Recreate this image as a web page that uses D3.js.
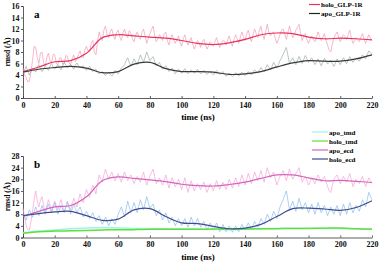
<!DOCTYPE html>
<html>
<head>
<meta charset="utf-8">
<script src="https://cdn.jsdelivr.net/npm/d3@7"></script>
<style>
  body { margin: 0; background: #fff; }
  text { font-family: "Liberation Serif", "Times New Roman", serif; font-weight: bold; }
</style>
</head>
<body>
<div id="chart"></div>
<script>
// time steps
var tRaw = d3.range(0, 221, 1);
var tSmooth = d3.range(0, 221, 10);
var xTicks = [0, 20, 40, 60, 80, 100, 120, 140, 160, 180, 200, 220];

// panel a (raw every 1 ns, smooth every 10 ns)
var holoRaw = [
  5.2,4.0,3.5,2.8,2.9,4.5,6.5,9.0,8.8,7.0,
  6.0,7.8,8.0,6.2,5.5,7.0,7.8,6.5,6.2,7.6,
  7.5,6.0,5.8,6.9,7.0,5.9,6.0,7.4,7.2,6.1,
  5.8,6.8,7.5,6.3,6.8,7.6,8.2,7.1,7.0,8.4,
  9.0,8.2,8.0,9.5,10.0,8.0,7.5,9.8,11.5,10.4,
  10.0,11.8,12.5,11.0,10.5,11.6,12.0,10.8,10.2,11.4,
  11.8,10.6,10.0,11.3,12.0,11.0,10.5,11.7,11.2,10.3,
  9.8,10.9,11.5,10.6,10.2,11.4,12.0,10.8,9.5,10.4,
  11.2,11.9,12.5,11.0,9.8,10.3,11.0,10.6,10.0,11.2,
  11.5,10.0,9.2,10.4,11.0,10.1,9.5,10.2,10.8,9.6,
  9.0,10.3,11.0,9.8,9.2,9.9,10.5,9.4,8.5,9.3,
  10.0,9.6,8.8,9.7,10.2,9.3,8.5,9.1,9.8,9.5,
  9.0,9.8,10.5,9.6,8.8,9.4,10.0,9.9,9.2,10.1,
  10.8,9.7,9.0,10.2,11.0,10.3,9.5,10.6,11.5,10.7,
  10.0,11.1,11.8,10.6,9.8,11.0,12.0,11.2,10.5,11.7,
  12.5,11.0,10.2,11.6,12.8,11.4,10.8,11.3,11.5,10.4,
  9.5,10.2,11.0,11.8,12.0,11.1,10.2,11.4,12.5,11.3,
  10.5,11.0,11.8,12.3,12.8,11.2,10.0,10.8,11.2,10.1,
  9.5,10.3,10.8,10.2,9.8,10.6,11.5,10.7,10.0,10.6,
  11.2,10.0,9.2,8.3,8.0,9.4,10.5,11.0,11.5,10.6,
  9.8,10.5,11.0,10.7,10.2,11.0,11.8,10.5,9.5,9.9,
  10.5,10.1,9.8,10.6,11.2,10.2,9.5,10.3,11.0,10.4,
  10.0];
var apoRaw = [
  4.2,4.9,5.5,4.7,4.0,4.6,5.2,4.8,4.5,5.3,
  5.8,5.1,4.6,5.0,5.5,5.2,4.8,5.5,6.0,5.4,
  5.0,5.5,5.8,5.3,4.9,5.6,6.2,5.7,5.2,5.5,
  5.9,5.4,5.0,5.7,6.1,5.6,5.3,5.5,5.6,5.1,
  4.8,5.2,5.5,5.0,4.6,4.9,5.0,4.5,4.2,4.4,
  4.6,4.2,3.9,4.3,4.5,4.1,3.8,4.2,4.8,4.5,
  4.2,4.7,5.2,5.5,5.8,6.5,7.0,6.2,5.6,6.1,
  6.8,6.3,5.8,6.6,7.5,6.8,6.2,7.1,8.0,7.2,
  6.5,6.9,7.2,6.4,5.6,5.9,6.2,5.5,5.0,5.3,
  5.6,5.1,4.6,4.9,5.2,4.7,4.2,4.6,5.0,4.7,
  4.3,4.7,5.1,4.6,4.2,4.5,4.9,4.6,4.3,4.6,
  5.0,4.6,4.2,4.5,4.8,4.4,4.1,4.4,4.7,4.3,
  4.0,4.4,4.8,4.4,4.1,4.3,4.6,4.2,3.8,4.0,
  4.3,4.0,3.7,4.0,4.4,4.1,3.8,4.2,4.5,4.2,
  3.9,4.2,4.6,4.3,4.0,4.4,4.9,4.6,4.3,4.8,
  5.3,4.9,4.6,5.2,5.8,5.3,4.9,5.5,6.2,5.7,
  5.2,5.8,6.5,7.0,7.6,8.2,8.8,7.4,6.0,6.5,
  7.0,6.4,5.8,6.5,7.2,6.6,6.0,6.7,7.4,6.8,
  6.2,6.6,7.0,6.4,5.8,6.3,6.8,6.2,5.6,6.2,
  6.9,6.4,5.9,6.2,6.6,6.0,5.5,6.1,6.8,6.3,
  5.8,6.4,7.0,6.5,6.0,6.6,7.2,6.7,6.2,6.6,
  7.0,6.7,6.4,6.9,7.5,7.1,6.8,7.5,8.2,7.9,
  7.6];
var holoSmooth = [4.6,5.4,6.3,6.5,7.8,10.5,11.0,10.8,10.6,10.4,10.0,9.5,9.3,9.6,10.2,11.0,11.3,11.2,10.6,10.3,10.4,10.3,10.1];
var apoSmooth = [4.5,5.0,5.3,5.5,5.2,4.4,4.6,5.9,6.2,5.1,4.6,4.6,4.5,4.1,4.2,4.6,5.4,6.1,6.5,6.4,6.4,6.8,7.5];
var yTicksA = [0, 2, 4, 6, 8, 10, 12, 14, 16];

// panel b
var apoEcdRaw = [
  10.0,7.0,4.0,2.8,2.5,5.5,9.0,13.0,16.0,12.5,
  10.5,12.8,14.0,11.0,8.5,10.8,13.0,11.2,9.0,10.9,
  12.5,11.0,9.5,11.4,13.0,10.6,8.8,10.5,12.0,10.8,
  9.5,11.6,13.5,12.0,10.5,12.9,15.0,13.2,12.0,14.5,
  16.5,15.0,14.0,16.2,18.0,16.4,15.0,18.5,21.5,20.2,
  19.0,21.5,23.5,21.6,20.0,21.4,22.5,20.8,19.5,20.8,
  22.0,20.5,19.0,20.8,22.5,21.0,19.5,20.6,21.5,20.0,
  18.5,19.9,21.0,20.1,19.0,20.8,22.5,20.2,18.0,19.6,
  21.0,22.4,23.5,20.9,18.5,19.4,20.5,19.2,18.0,19.8,
  21.5,19.2,17.0,18.8,20.5,18.9,17.5,18.6,20.0,18.3,
  16.5,18.6,20.5,18.0,15.5,17.5,19.5,17.8,16.0,17.3,
  18.5,17.6,16.5,17.8,19.0,17.2,15.5,17.0,18.5,17.3,
  16.0,17.8,19.5,18.0,16.5,17.8,19.0,17.8,16.5,18.2,
  20.0,18.6,17.0,18.8,20.5,19.0,17.5,19.5,21.5,19.8,
  18.0,20.0,22.0,20.3,18.5,20.5,22.5,21.0,19.5,21.2,
  23.0,21.0,19.0,21.5,24.0,22.2,20.5,21.6,22.5,20.2,
  18.0,19.5,21.0,22.0,23.0,21.2,19.5,21.5,23.5,21.8,
  20.0,21.0,22.0,23.0,24.0,21.5,19.0,20.0,21.0,19.5,
  18.0,19.2,20.5,19.5,18.5,20.0,21.5,20.3,19.0,20.0,
  21.0,19.2,17.5,16.0,15.5,17.8,20.0,20.8,21.5,20.0,
  18.5,19.8,21.0,20.0,19.0,20.5,22.0,19.8,17.5,18.8,
  20.0,19.2,18.5,19.8,21.0,19.2,17.5,19.0,20.5,19.5,
  18.5];
var holoEcdRaw = [
  8.0,7.0,6.0,7.8,9.5,8.2,7.0,8.8,10.5,9.0,
  7.5,9.2,11.0,9.5,8.0,9.8,11.5,10.0,8.5,10.2,
  12.0,10.0,8.0,9.5,11.0,9.8,8.5,10.5,12.5,10.2,
  8.0,9.8,11.5,10.0,8.5,9.5,10.5,8.8,7.0,8.0,
  9.0,7.8,6.5,7.5,8.5,7.0,5.5,6.5,7.5,6.0,
  4.5,5.8,7.0,5.5,4.0,5.2,6.5,5.5,4.5,6.2,
  8.0,9.2,10.5,8.8,7.0,9.8,12.5,10.5,8.5,10.2,
  12.0,10.2,8.5,10.8,13.0,11.2,9.5,11.8,14.0,12.0,
  10.0,10.8,11.5,9.5,7.5,8.5,9.5,7.8,6.0,7.2,
  8.5,6.8,5.0,6.0,7.0,5.5,4.0,5.2,6.5,5.2,
  4.0,5.2,6.5,5.0,3.5,5.2,7.0,5.5,4.0,5.2,
  6.5,5.0,3.5,4.5,5.5,4.0,2.5,3.8,5.0,3.8,
  2.5,3.8,5.0,3.5,2.0,3.2,4.5,3.2,2.0,3.0,
  4.0,2.9,1.8,2.9,4.0,3.0,2.0,3.2,4.5,3.5,
  2.5,3.8,5.0,4.0,3.0,4.2,5.5,4.5,3.5,5.0,
  6.5,5.5,4.5,6.2,8.0,6.8,5.5,7.2,9.0,7.8,
  6.5,8.5,10.5,11.8,13.0,14.5,16.0,12.8,9.5,11.0,
  12.5,10.8,9.0,11.2,13.5,11.5,9.5,10.8,12.0,10.2,
  8.5,10.0,11.5,9.8,8.0,10.0,12.0,10.2,8.5,9.8,
  11.0,9.2,7.5,9.0,10.5,9.2,8.0,9.5,11.0,9.2,
  7.5,9.5,11.5,9.8,8.0,10.0,12.0,10.2,8.5,9.8,
  11.0,10.0,9.0,11.0,13.0,11.8,10.5,13.0,15.5,14.2,
  13.0];
var apoEcdSmooth = [7.2,9.0,10.5,11.0,14.0,19.5,20.8,20.3,19.8,19.2,18.3,17.8,17.7,18.2,19.0,20.3,21.5,21.5,20.5,19.5,19.6,19.3,18.9];
var holoEcdSmooth = [7.5,8.2,8.8,9.0,7.5,5.9,6.3,9.5,9.9,7.2,5.0,4.8,3.8,3.0,3.2,4.5,7.2,9.9,10.1,9.8,9.3,10.3,12.6];
var apoTmd = [1.6,2.2,2.6,3.0,3.3,3.4,3.3,3.1,3.0,3.0,3.0,2.9,2.8,2.7,2.8,3.0,3.1,3.2,3.2,3.1,3.1,3.0,2.9];
var holoTmd = [1.5,2.0,2.2,2.3,2.4,2.6,2.7,2.7,2.8,2.8,2.8,2.8,2.9,2.9,2.9,3.0,3.0,3.1,3.1,3.2,3.3,3.0,2.8];
var yTicksB = [0, 4, 8, 12, 16, 20, 24, 28];

var svg = d3.select("#chart").append("svg")
  .attr("width", 381)
  .attr("height", 266);

var x = d3.scaleLinear().domain([0, 220]).range([23, 372]);

function drawPanel(cfg) {
  var y = d3.scaleLinear().domain([0, cfg.ymax]).range([cfg.y0, cfg.y1]);
  var g = svg.append("g");

  g.append("g")
    .attr("transform", `translate(0, ${cfg.y0})`)
    .call(d3.axisBottom(x).tickValues(xTicks).tickSizeInner(-2).tickSizeOuter(0).tickPadding(4));
  g.append("g")
    .attr("transform", "translate(23, 0)")
    .call(d3.axisLeft(y).tickValues(cfg.yTicks).tickSize(2).tickPadding(1.5));
  g.selectAll(".tick text").attr("font-size", 8).attr("font-family", "Liberation Serif").attr("font-weight", "bold").attr("fill", "#111");
  g.selectAll(".domain, .tick line").attr("stroke", "#333").attr("stroke-width", 0.8);

  // lines
  cfg.series.forEach(function(s) {
    var line = d3.line()
      .x((d, i) => x(s.t[i]))
      .y(d => y(d))
      .curve(s.smooth ? d3.curveCatmullRom.alpha(0.5) : d3.curveLinear);
    g.append("path")
      .datum(s.values)
      .attr("fill", "none")
      .attr("stroke", s.color)
      .attr("stroke-width", s.width)
      .attr("d", line);
  });

  g.append("text")
    .attr("x", 34).attr("y", cfg.y1 + 12)
    .attr("font-size", 11).attr("font-weight", "normal")
    .text(cfg.label);

  g.append("text")
    .attr("transform", `translate(10, ${(cfg.y0 + cfg.y1) / 2}) rotate(-90)`)
    .attr("text-anchor", "middle")
    .attr("font-size", 7.5)
    .text("rmsd (Å)");

  g.append("text")
    .attr("x", 198).attr("y", cfg.y0 + 22)
    .attr("text-anchor", "middle")
    .attr("font-size", 9)
    .text("time (ns)");

  // legend
  cfg.legend.forEach(function(l, i) {
    var ly = cfg.legendY + i * cfg.legendStep;
    g.append("line")
      .attr("x1", cfg.legendX).attr("x2", cfg.legendX + cfg.legendLen)
      .attr("y1", ly).attr("y2", ly)
      .attr("stroke", l.color).attr("stroke-width", 1.2);
    g.append("text")
      .attr("x", cfg.legendX + cfg.legendLen + 1).attr("y", ly + 2.5)
      .attr("font-size", 7)
      .text(l.name);
  });
}

drawPanel({
  y0: 98, y1: 6, ymax: 16, yTicks: yTicksA, label: "a",
  series: [
    {t: tRaw, values: holoRaw, color: "#f39ab6", width: 0.7},
    {t: tRaw, values: apoRaw, color: "#9eaaad", width: 0.7},
    {t: tSmooth, values: holoSmooth, color: "#e8335e", width: 1.2, smooth: true},
    {t: tSmooth, values: apoSmooth, color: "#3a3a3a", width: 1.2, smooth: true}
  ],
  legend: [{name: "holo_GLP-1R", color: "#e8335e"}, {name: "apo_GLP-1R", color: "#222"}],
  legendX: 309, legendLen: 11, legendY: 4.5, legendStep: 9
});

drawPanel({
  y0: 237.5, y1: 156, ymax: 28, yTicks: yTicksB, label: "b",
  series: [
    {t: tRaw, values: apoEcdRaw, color: "#f5a0d8", width: 0.7},
    {t: tRaw, values: holoEcdRaw, color: "#86bdee", width: 0.7},
    {t: tSmooth, values: apoTmd, color: "#9ff2e6", width: 1.5, smooth: true},
    {t: tSmooth, values: holoTmd, color: "#5fe03a", width: 1.5, smooth: true},
    {t: tSmooth, values: apoEcdSmooth, color: "#d266bb", width: 1.2, smooth: true},
    {t: tSmooth, values: holoEcdSmooth, color: "#3f4c8e", width: 1.2, smooth: true}
  ],
  legend: [
    {name: "apo_tmd", color: "#9ff2e6"},
    {name: "holo_tmd", color: "#5fe03a"},
    {name: "apo_ecd", color: "#d266bb"},
    {name: "holo_ecd", color: "#3f4c8e"}
  ],
  legendX: 312, legendLen: 16, legendY: 132, legendStep: 9
});
</script>
</body>
</html>
